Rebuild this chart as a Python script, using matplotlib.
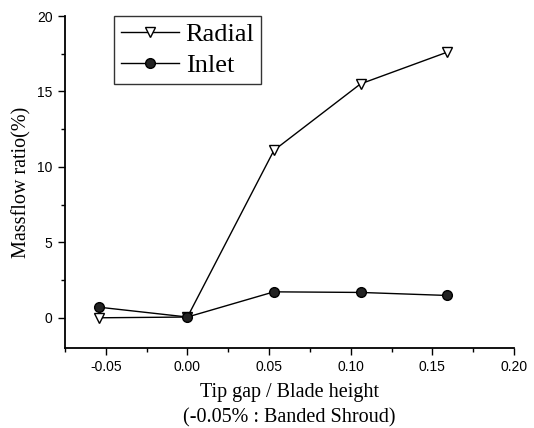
import matplotlib
matplotlib.use('Agg')
import matplotlib.pyplot as plt
from matplotlib.ticker import MultipleLocator

# values
tip_gap = [-0.054, 0.0, 0.053, 0.106, 0.159]
radial = [0.0, 0.05, 11.1, 15.5, 17.6]
inlet = [0.7, 0.05, 1.72, 1.68, 1.48]

serif = 'Liberation Serif'
sans = 'Liberation Sans'

fig = plt.figure(figsize=(5.34, 4.28), dpi=100)
ax = fig.add_axes([0.1217, 0.187, 0.8408, 0.7756])

ax.plot(tip_gap, radial, color='black', lw=1.0, marker='v', markersize=7,
        markerfacecolor='white', markeredgecolor='black', markeredgewidth=1.0,
        label='Radial')
ax.plot(tip_gap, inlet, color='black', lw=1.0, marker='o', markersize=7,
        markerfacecolor='#222222', markeredgecolor='black', label='Inlet')

ax.set_xlim(-0.075, 0.20)
ax.set_ylim(-2, 20)
ax.xaxis.set_major_locator(MultipleLocator(0.05))
ax.xaxis.set_minor_locator(MultipleLocator(0.025))
ax.yaxis.set_major_locator(MultipleLocator(5))
ax.yaxis.set_minor_locator(MultipleLocator(2.5))
ax.set_xticks([-0.05, 0.0, 0.05, 0.10, 0.15, 0.20])
ax.set_xticklabels(['-0.05', '0.00', '0.05', '0.10', '0.15', '0.20'])

for s in ['top', 'right']:
    ax.spines[s].set_visible(False)
for s in ['left', 'bottom']:
    ax.spines[s].set_linewidth(1.3)

ax.tick_params(which='major', direction='out', length=5, width=1.0,
               labelsize=10, pad=4)
ax.tick_params(which='minor', direction='out', length=3, width=1.0)
for lab in ax.get_xticklabels() + ax.get_yticklabels():
    lab.set_fontfamily(sans)

ax.set_ylabel('Massflow ratio(%)', fontsize=14.5, family=serif, labelpad=4)
ax.set_xlabel('Tip gap / Blade height\n(-0.05% : Banded Shroud)', fontsize=14.5,
              family=serif, linespacing=1.45, labelpad=6)

leg = ax.legend(loc='upper left', bbox_to_anchor=(0.11, 1.0),
                prop={'family': serif, 'size': 19}, frameon=True,
                fancybox=False, edgecolor='black', handlelength=2.2,
                handletextpad=0.25, borderpad=0.25, labelspacing=0.28,
                borderaxespad=0.0)
leg.get_frame().set_linewidth(1.0)

fig.savefig('out.png', dpi=100)
